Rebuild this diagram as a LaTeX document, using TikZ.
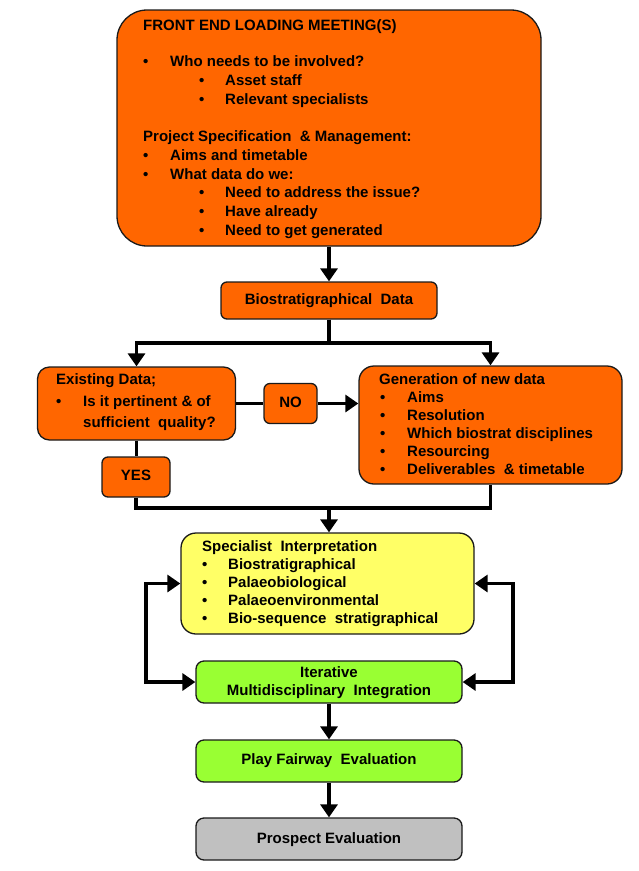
\documentclass[tikz,border=0pt]{standalone}
\usepackage{fontspec}
\setmainfont{Liberation Sans}
\usetikzlibrary{arrows.meta}
\definecolor{orng}{HTML}{FF6600}
\definecolor{ylw}{HTML}{FFFF66}
\definecolor{grn}{HTML}{99FF33}
\definecolor{gry}{HTML}{C0C0C0}
\definecolor{edge}{HTML}{1A1A1A}
\newcommand\tl[3]{\node[txt] (t-#1-#2) at (#1,-#2) {#3};}
\newcommand\tc[3]{\node[txtc] (c-#1-#2) at (#1,-#2) {#3};}
\begin{document}
\begin{tikzpicture}[x=1pt,y=1pt,
  box/.style={draw=edge, line width=1.3pt, inner sep=0pt},
  txt/.style={anchor=west, inner sep=0pt, font=\fontsize{15}{17}\selectfont\bfseries, text height=10.8pt, text depth=3pt},
  txtc/.style={txt, anchor=center},
  conn/.style={line width=3.8pt, line join=miter, draw=black},
  arr/.style={conn, -{Triangle[length=13pt,width=17pt]}},
  arrs/.style={conn, {Triangle[length=13pt,width=17pt]}-{Triangle[length=13pt,width=17pt]}}]
\useasboundingbox (0,0) rectangle (639,-871);
% boxes
\node[box, fill=orng, rounded corners=30pt, minimum width=424pt, minimum height=236pt] (fel) at (329,-128) {};
\node[box, fill=orng, rounded corners=6pt, minimum width=216pt, minimum height=37pt] (bio) at (329,-300.5) {};
\node[box, fill=orng, rounded corners=12pt, minimum width=198pt, minimum height=73pt] (ex) at (136.5,-403.5) {};
\node[box, fill=orng, rounded corners=6pt, minimum width=53pt, minimum height=40pt] (no) at (290.5,-403.5) {};
\node[box, fill=orng, rounded corners=15pt, minimum width=263pt, minimum height=118pt] (gen) at (490.5,-425) {};
\node[box, fill=orng, rounded corners=6pt, minimum width=68pt, minimum height=40pt] (yes) at (136,-477) {};
\node[box, fill=ylw, rounded corners=15pt, minimum width=293pt, minimum height=101pt] (spec) at (327.5,-583.5) {};
\node[box, fill=grn, rounded corners=8pt, minimum width=266pt, minimum height=42pt] (iter) at (329,-682) {};
\node[box, fill=grn, rounded corners=8pt, minimum width=266pt, minimum height=42pt] (play) at (329,-761) {};
\node[box, fill=gry, rounded corners=8pt, minimum width=266pt, minimum height=42pt] (pros) at (329,-839) {};
% texts top box
\tl{143}{27}{FRONT END LOADING MEETING(S)}
\tl{143}{63}{•}\tl{170}{63}{Who needs to be involved?}
\tl{199}{82}{•}\tl{225}{82}{Asset staff}
\tl{199}{101}{•}\tl{225}{101}{Relevant specialists}
\tl{143}{138}{Project Specification \ \& Management:}
\tl{143}{157}{•}\tl{170}{157}{Aims and timetable}
\tl{143}{176}{•}\tl{170}{176}{What data do we:}
\tl{199}{194}{•}\tl{225}{194}{Need to address the issue?}
\tl{199}{213}{•}\tl{225}{213}{Have already}
\tl{199}{232}{•}\tl{225}{232}{Need to get generated}
% biostrat
\tc{329}{301}{Biostratigraphical \ Data}
% existing
\tl{56}{381}{Existing Data;}
\tl{56}{403}{•}\tl{83}{403}{Is it pertinent \& of}
\tl{83}{424}{sufficient \ quality?}
\tc{290.5}{404}{NO}
\tc{136}{477}{YES}
% generation
\tl{379}{381}{Generation of new data}
\tl{380}{399}{•}\tl{407}{399}{Aims}
\tl{380}{417}{•}\tl{407}{417}{Resolution}
\tl{380}{435}{•}\tl{407}{435}{Which biostrat disciplines}
\tl{380}{453}{•}\tl{407}{453}{Resourcing}
\tl{380}{471}{•}\tl{407}{471}{Deliverables \ \& timetable}
% specialist
\tl{202}{548}{Specialist \ Interpretation}
\tl{202}{566}{•}\tl{228}{566}{Biostratigraphical}
\tl{202}{584}{•}\tl{228}{584}{Palaeobiological}
\tl{202}{602}{•}\tl{228}{602}{Palaeoenvironmental}
\tl{202}{620}{•}\tl{228}{620}{Bio-sequence \ stratigraphical}
% iterative etc
\tc{329}{674}{Iterative}
\tc{329}{692}{Multidisciplinary \ Integration}
\tc{329}{761}{Play Fairway \ Evaluation}
\tc{329}{840}{Prospect Evaluation}
% coordinates
\coordinate (split) at (329,-343);
\coordinate (merge) at (329,-508);
% connectors
\draw[arr] (fel.south) -- (bio.north);
\draw[arr] (bio.south) -- (split) -| (ex.north);
\draw[arr] (bio.south) -- (split) -| (gen.north);
\draw[conn] (no.west -| ex.east) -- (no.west);
\draw[arr] (no.east) -- (gen.west |- no.east);
\draw[conn] (ex.south) -- (ex.south |- yes.north);
\draw[conn] (yes.south) |- (merge) -| (gen.south);
\draw[arr] (merge) -- (spec.north -| merge);
\draw[arrs] (spec.west) -- ++(-34,0) |- (iter.west);
\draw[arrs] (spec.east) -- ++(38,0) |- (iter.east);
\draw[arr] (iter.south) -- (play.north);
\draw[arr] (play.south) -- (pros.north);
\end{tikzpicture}
\end{document}
